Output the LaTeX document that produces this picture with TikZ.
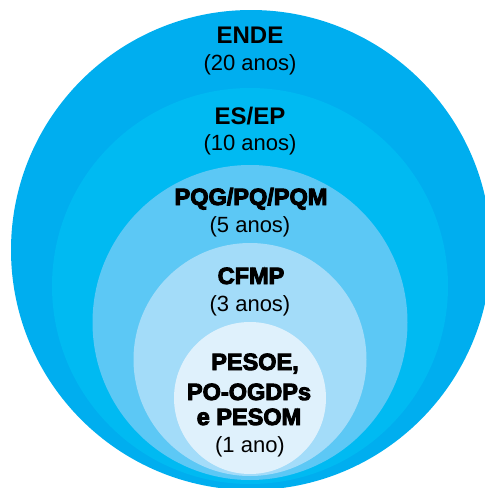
\documentclass[tikz,border=0pt]{standalone}
\usepackage{fontspec}
\setmainfont{Liberation Sans}
\newfontfamily\boldf{Liberation Sans Bold}
\newfontfamily\heavyf{Liberation Sans Bold}[FakeBold=4]
\definecolor{cA}{RGB}{0,174,239}
\definecolor{cB}{RGB}{0,186,242}
\definecolor{cC}{RGB}{92,200,245}
\definecolor{cD}{RGB}{163,220,249}
\definecolor{cE}{RGB}{223,241,252}
\tikzset{
  boldlab/.style={anchor=base, inner sep=0pt, font=\boldf\fontsize{24}{28}\selectfont},
  heavylab/.style={anchor=base, inner sep=0pt, font=\heavyf\fontsize{23.5}{28}\selectfont},
  yearlab/.style={anchor=base, inner sep=0pt, font=\fontsize{22}{26}\selectfont},
}
\begin{document}
\begin{tikzpicture}[x=1pt,y=-1pt]
\useasboundingbox (0,0) rectangle (485,488);
\clip (0,0) rectangle (485,488);
\fill[cA] (251,250) circle (240pt);
\fill[cB] (250,286) circle (198pt);
\fill[cC] (250,322.5) circle (157.5pt);
\fill[cD] (250,359.5) circle (116.5pt);
\fill[cE] (250,398) circle (76pt);
\node[boldlab] (ende) at (250,43) {ENDE};
\node[yearlab] (ende2) at (250,70) {(20 anos)};
\node[boldlab] (esep) at (250,124) {ES/EP};
\node[yearlab] (esep2) at (250,150) {(10 anos)};
\node[heavylab] (pqg) at (251,205) {PQG/PQ/PQM};
\node[yearlab] (pqg2) at (250,232) {(5 anos)};
\node[heavylab] (cfmp) at (251,284) {CFMP};
\node[yearlab] (cfmp2) at (250,311) {(3 anos)};
\node[heavylab] (pesoe) at (255,370) {PESOE,};
\node[heavylab] (pogd) at (249,400) {PO-OGDPs};
\node[heavylab] (pesom) at (249,425) {e PESOM};
\node[yearlab] (pes2) at (250,452) {(1 ano)};
\end{tikzpicture}
\end{document}
